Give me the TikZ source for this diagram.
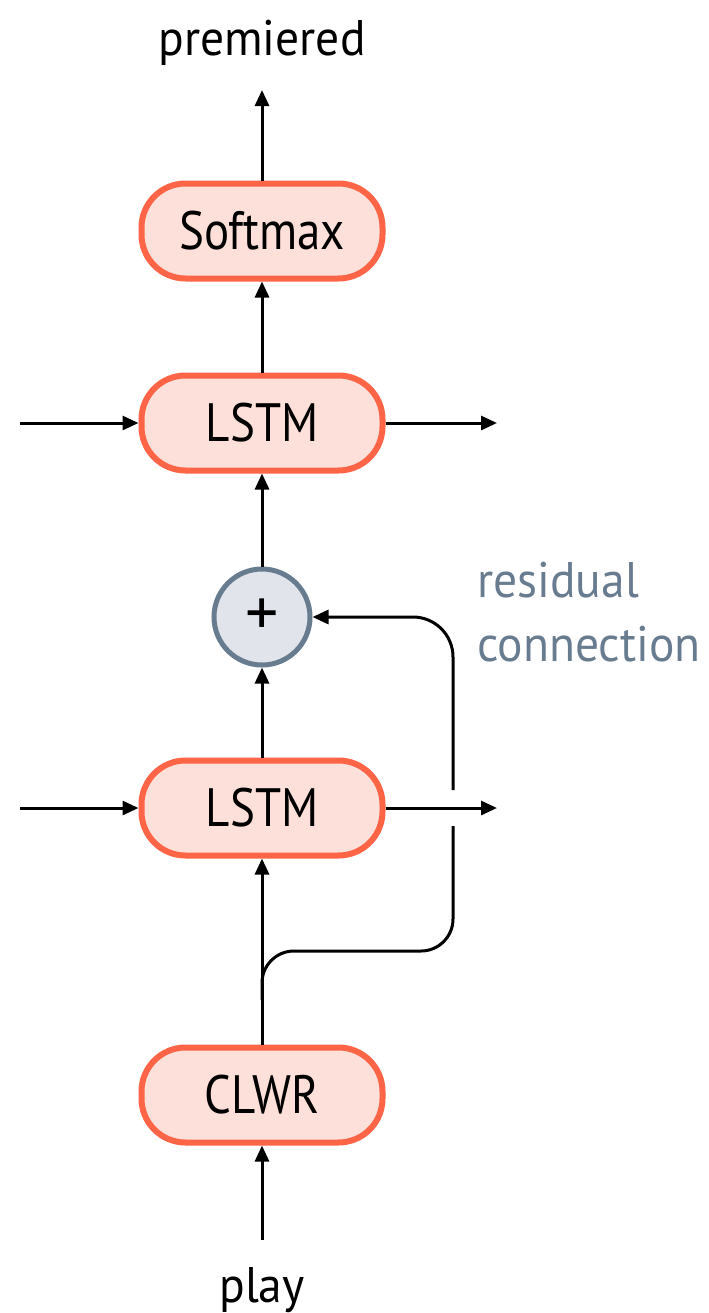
\documentclass[tikz,border=0pt]{standalone}
\usepackage{fontspec}
\setmainfont{PT Sans}
\newfontfamily\boxfont[FakeStretch=0.87]{PT Sans}
\newfontfamily\wordfont[FakeStretch=0.95]{PT Sans}
\usepackage{tikz}
\usetikzlibrary{arrows.meta,positioning}
\definecolor{boxfill}{HTML}{FDE0DA}
\definecolor{boxline}{HTML}{FE6446}
\definecolor{addfill}{HTML}{E1E4EA}
\definecolor{addline}{HTML}{687C90}
\tikzstyle{line} = [draw, line width=1.5pt, -{Triangle[length=8pt,width=7pt]}]
\tikzstyle{wire} = [draw, line width=1.5pt]
\tikzstyle{block} = [draw=boxline, fill=boxfill, line width=3pt, rectangle, rounded corners=22pt, text centered, minimum width=120.5pt, minimum height=47.5pt, font=\boxfont\fontsize{27}{32}\selectfont]
\tikzstyle{adder} = [draw=addline, fill=addfill, line width=2.5pt, circle, minimum size=48pt, inner sep=0pt, font=\fontsize{33}{36}\selectfont]
\tikzstyle{word} = [inner sep=0pt, font=\wordfont\fontsize{25}{30}\selectfont]
\tikzstyle{note} = [inner sep=0pt, text=addline, align=left, font=\wordfont\fontsize{25}{32}\selectfont]

\begin{document}
\begin{tikzpicture}[x=0.5pt, y=-0.5pt, node distance=96pt]
        \useasboundingbox (0,0) rectangle (708,1313);
        \node[block] (softmax) at (262,231) {Softmax};
        \node[block, below of=softmax] (lstmtop) {LSTM};
        \node[adder, below of=lstmtop, node distance=97pt] (add) {+};
        \node[block, below of=add, node distance=95.5pt] (lstmbot) {LSTM};
        \node[block, below of=lstmbot, node distance=143.5pt] (clwr) {CLWR};
        \node[word, anchor=base] (out) at (262,55) {premiered};
        \node[word, anchor=base] (in) at (262,1302) {play};
        \node[note, anchor=north west] (res) at (477,562) {residual\\connection};
        \coordinate (outtip) at (262,90);
        \coordinate (intail) at (262,1240);
        \coordinate (topleft) at (20,423);
        \coordinate (topright) at (497,423);
        \coordinate (botleft) at (20,808);
        \coordinate (botright) at (497,808);
        \coordinate (split) at (262,1000);
        \coordinate (bend) at (453,951);
        \coordinate (hoplow) at (453,826);
        \coordinate (hophigh) at (453,790);
        \path[line] (intail) -- (clwr);
        \path[line] (clwr) -- (lstmbot);
        \path[line] (lstmbot) -- (add);
        \path[line] (add) -- (lstmtop);
        \path[line] (lstmtop) -- (softmax);
        \path[line] (softmax) -- (outtip);
        \path[line] (topleft) -- (lstmtop);
        \path[line] (lstmtop) -- (topright);
        \path[line] (botleft) -- (lstmbot);
        \path[line] (lstmbot) -- (botright);
        % residual connection, broken where it crosses the output
        \path[wire, rounded corners=16pt] (split) |- (bend) -- (hoplow);
        \path[line, rounded corners=20pt] (hophigh) |- (add);
\end{tikzpicture}
\end{document}
